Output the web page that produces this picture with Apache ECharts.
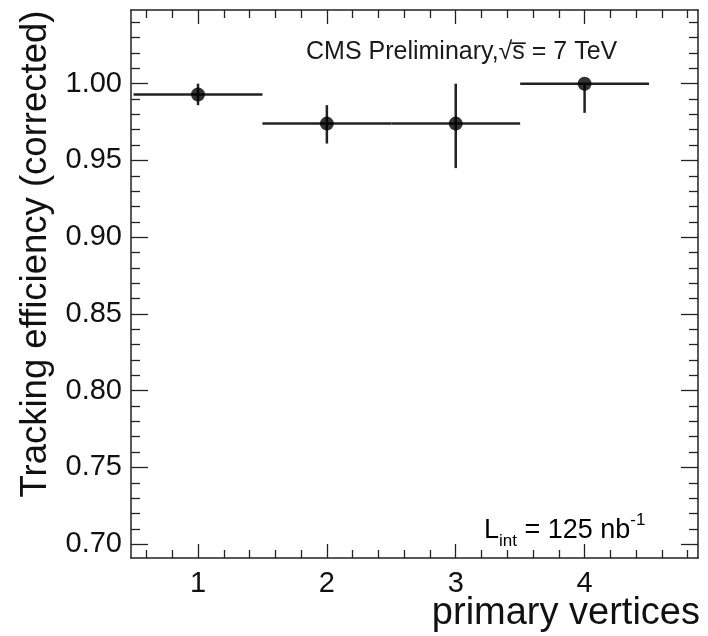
<!DOCTYPE html>
<html>
<head>
<meta charset="utf-8">
<script src="https://cdn.jsdelivr.net/npm/echarts@6/dist/echarts.min.js"></script>
<style>
  html, body { margin: 0; padding: 0; background: #fff; }
  #chart { width: 708px; height: 636px; }
</style>
</head>
<body>
<div id="chart"></div>
<script>
// ---- data ----
const xCenters   = [1, 2, 3, 4];
const binLow     = [0.5, 1.5, 2.5, 3.5];
const binHigh    = [1.5, 2.5, 3.5, 4.5];
const efficiency = [0.993, 0.974, 0.974, 1.000];
const errDown    = [0.986, 0.961, 0.945, 0.981];
const errUp      = [1.000, 0.986, 1.000, 1.000];
const xTickLabels = [1, 2, 3, 4];
const yTickLabels = [0.70, 0.75, 0.80, 0.85, 0.90, 0.95, 1.00];
const xTitle = 'primary vertices';
const yTitle = 'Tracking efficiency (corrected)';

// ---- axis configuration ----
const X_MIN = 0.48, X_MAX = 4.88;
const Y_MIN = 0.691, Y_MAX = 1.048;
const xMinor = [];
for (let k = 3; k <= 24; k++) { if (k % 5 !== 0) xMinor.push(Math.round(k * 2) / 10); }
const yMinor = [];
for (let k = 70; k <= 104; k++) { if (k % 5 !== 0) yMinor.push(k / 100); }

const FONT = '"Liberation Sans", Arial, Helvetica, sans-serif';
const INK = '#111';
const FRAME = { show: true, onZero: false, lineStyle: { color: '#222', width: 1.5 } };

function xAxisDef(position, ticks, len, showLine, showLabels, extra) {
  return Object.assign({
    type: 'value', position: position, min: X_MIN, max: X_MAX,
    axisLine: showLine ? FRAME : { show: false, onZero: false },
    axisTick: { show: true, inside: true, length: len, customValues: ticks, lineStyle: { color: '#222', width: 1.3 } },
    axisLabel: showLabels ? { show: true, customValues: xTickLabels, fontSize: 29, color: INK, fontFamily: FONT, margin: 11 } : { show: false },
    splitLine: { show: false }
  }, extra || {});
}
function yAxisDef(position, ticks, len, showLine, showLabels, extra) {
  return Object.assign({
    type: 'value', position: position, min: Y_MIN, max: Y_MAX,
    axisLine: showLine ? FRAME : { show: false, onZero: false },
    axisTick: { show: true, inside: true, length: len, customValues: ticks, lineStyle: { color: '#222', width: 1.3 } },
    axisLabel: showLabels ? { show: true, customValues: yTickLabels, fontSize: 29, color: INK, fontFamily: FONT, margin: 9,
      formatter: v => Number(v).toFixed(2) } : { show: false },
    splitLine: { show: false }
  }, extra || {});
}

const pointData = xCenters.map((x, i) => [x, efficiency[i], binLow[i], binHigh[i], errDown[i], errUp[i]]);

const option = {
  animation: false,
  backgroundColor: '#fff',
  grid: { left: 131, right: 10, top: 10, bottom: 78, containLabel: false, outerBoundsMode: 'none' },
  xAxis: [
    xAxisDef('bottom', xTickLabels, 14, true, true),
    xAxisDef('bottom', xMinor, 8, false, false),
    xAxisDef('top', xTickLabels, 14, true, false),
    xAxisDef('top', xMinor, 8, false, false)
  ],
  yAxis: [
    yAxisDef('left', yTickLabels, 17, true, true, {
      name: yTitle, nameLocation: 'middle', nameRotate: 90, nameGap: 70,
      nameTextStyle: { fontSize: 36.5, color: INK, fontFamily: FONT, padding: [0, 0, 0, 60] }
    }),
    yAxisDef('left', yMinor, 9, false, false),
    yAxisDef('right', yTickLabels, 17, true, false),
    yAxisDef('right', yMinor, 9, false, false)
  ],
  series: [
    {
      type: 'custom',
      xAxisIndex: 0, yAxisIndex: 0,
      data: pointData,
      encode: { x: [0, 2, 3], y: [1, 4, 5] },
      renderItem: function (params, api) {
        const xc = api.value(0), y = api.value(1);
        const pL = api.coord([api.value(2), y]);
        const pR = api.coord([api.value(3), y]);
        const pD = api.coord([xc, api.value(4)]);
        const pU = api.coord([xc, api.value(5)]);
        const st = { stroke: '#222', lineWidth: 2.5 };
        return {
          type: 'group',
          children: [
            { type: 'line', shape: { x1: pL[0], y1: pL[1], x2: pR[0], y2: pR[1] }, style: st },
            { type: 'line', shape: { x1: pD[0], y1: pD[1], x2: pU[0], y2: pU[1] }, style: st }
          ]
        };
      },
      z: 2
    },
    {
      type: 'scatter',
      xAxisIndex: 0, yAxisIndex: 0,
      data: xCenters.map((x, i) => [x, efficiency[i]]),
      symbol: 'circle', symbolSize: 14,
      itemStyle: { color: '#000' },
      z: 3
    }
  ],
  graphic: [
    {
      type: 'text', right: 8, top: 595,
      style: { text: xTitle, font: '38px ' + FONT, fill: INK }
    },
    {
      type: 'text', left: 306, top: 40,
      style: { text: 'CMS Preliminary,\u221As\u0305 = 7 TeV', font: '25px ' + FONT, fill: '#1a1a1a' }
    },
    {
      type: 'text', left: 484, top: 512,
      style: {
        text: '{m|L}{s|int}{m| = 125 nb}{p|-1}',
        rich: {
          m: { fontSize: 27, fontFamily: FONT, color: '#1a1a1a', lineHeight: 38, verticalAlign: 'middle' },
          s: { fontSize: 17, fontFamily: FONT, color: '#1a1a1a', lineHeight: 38, verticalAlign: 'bottom' },
          p: { fontSize: 17, fontFamily: FONT, color: '#1a1a1a', lineHeight: 38, verticalAlign: 'top' }
        }
      }
    }
  ]
};

const chart = echarts.init(document.getElementById('chart'), null, { renderer: 'canvas' });
chart.setOption(option);
</script>
</body>
</html>
